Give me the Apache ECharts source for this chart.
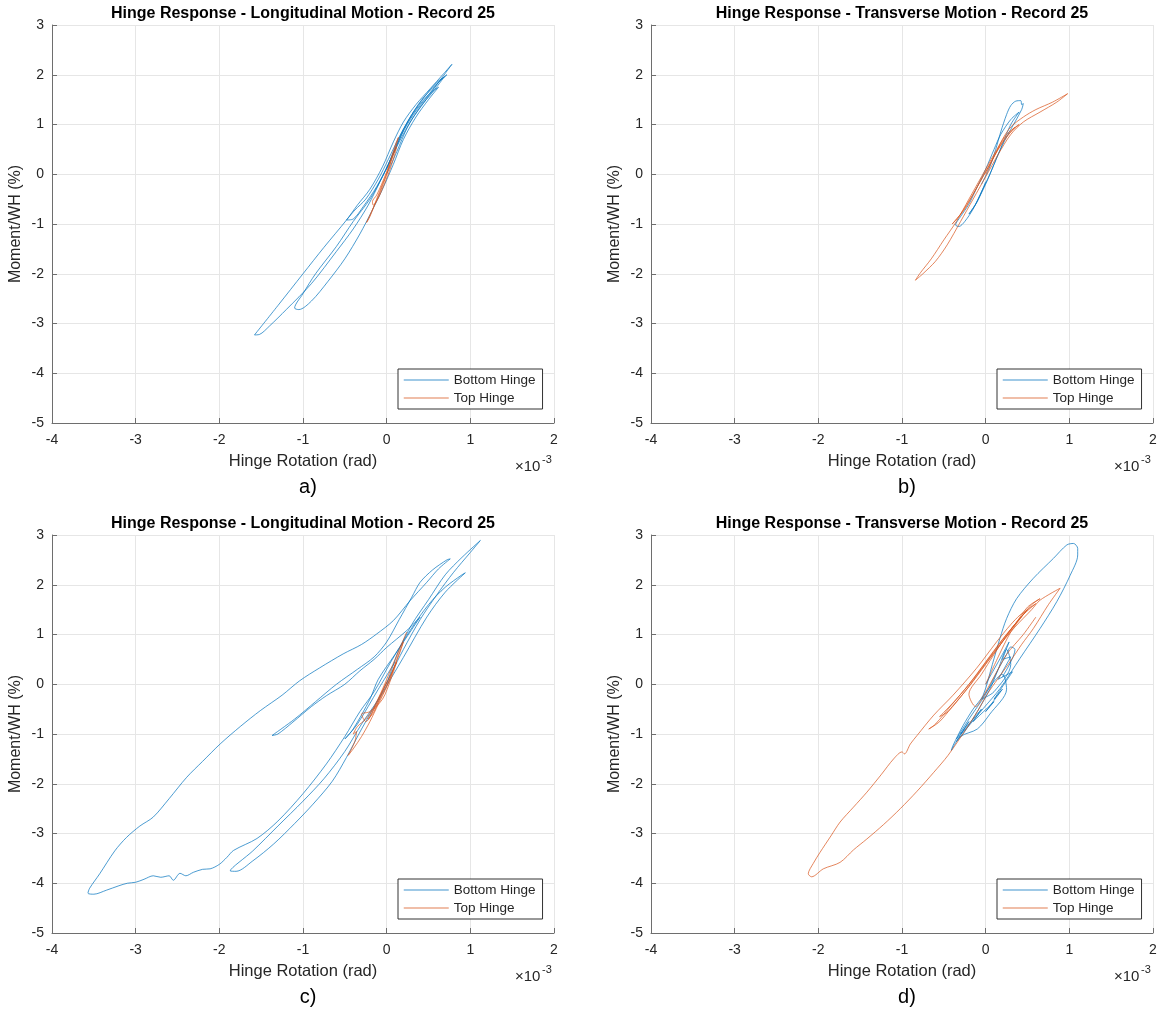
<!DOCTYPE html>
<html>
<head>
<meta charset="utf-8">
<script src="https://cdn.jsdelivr.net/npm/echarts@6/dist/echarts.min.js"></script>
<style>
  html, body { margin: 0; padding: 0; background: #fff; }
  #chart { width: 1162px; height: 1012px; }
</style>
</head>
<body>
<div id="chart"></div>
<script>
// tick values (x is in units of 1e-3 rad)
var xTicks = [-4, -3, -2, -1, 0, 1, 2];
var yTicks = [-5, -4, -3, -2, -1, 0, 1, 2, 3];
var seriesNames = ['Bottom Hinge', 'Top Hinge'];
var panelTitles = [
  'Hinge Response - Longitudinal Motion - Record 25',
  'Hinge Response - Transverse Motion - Record 25',
  'Hinge Response - Longitudinal Motion - Record 25',
  'Hinge Response - Transverse Motion - Record 25'
];
var panelLetters = ['a)', 'b)', 'c)', 'd)'];

// a) longitudinal, record 25
var aBottom = [[0,0],[0.12,0.45],[0.25,0.95],[0.4,1.35],[0.55,1.65],[0.69,1.96],[0.6,1.85],[0.45,1.55],[0.3,1.2],[0.15,0.75],[0.02,0.3],[-0.1,-0.1],[-0.25,-0.5],[-0.38,-0.72],[-0.48,-0.92],[-0.4,-0.9],[-0.28,-0.65],[-0.12,-0.25],[0.02,0.2],[0.15,0.65],[0.3,1.1],[0.45,1.45],[0.6,1.8],[0.78,2.21],[0.68,2.02],[0.52,1.72],[0.35,1.4],[0.2,1.05],[0.08,0.65],[-0.05,0.15],[-0.2,-0.3],[-0.35,-0.62],[-0.48,-0.92],[-0.75,-1.47],[-1.0,-2.0],[-1.3,-2.64],[-1.58,-3.23],[-1.52,-3.22],[-1.4,-3.05],[-1.2,-2.72],[-0.9,-2.2],[-0.6,-1.55],[-0.4,-1.1],[-0.22,-0.62],[-0.08,-0.15],[0.05,0.3],[0.18,0.8],[0.32,1.2],[0.48,1.55],[0.62,1.85],[0.72,2.0],[0.6,1.82],[0.42,1.5],[0.25,1.05],[0.1,0.5],[-0.05,-0.05],[-0.2,-0.5],[-0.4,-0.95],[-0.6,-1.45],[-0.85,-2.0],[-1.0,-2.4],[-1.1,-2.69],[-1.05,-2.72],[-0.9,-2.55],[-0.7,-2.15],[-0.5,-1.7],[-0.32,-1.2],[-0.18,-0.75],[-0.05,-0.3],[0.08,0.2],[0.2,0.7],[0.35,1.15],[0.5,1.5],[0.62,1.75],[0.5,1.6],[0.35,1.3],[0.2,0.9],[0.08,0.45],[0,0.1]];
var aTop = [[-0.24,-0.97],[-0.18,-0.75],[-0.1,-0.45],[-0.02,-0.1],[0.05,0.25],[0.1,0.5],[0.14,0.74],[0.11,0.62],[0.06,0.35],[0.0,0.05],[-0.06,-0.2],[-0.12,-0.42],[-0.17,-0.55],[-0.16,-0.62],[-0.1,-0.48],[-0.04,-0.25],[0.03,0.05],[0.08,0.3],[0.12,0.55],[0.08,0.4],[0.02,0.1],[-0.05,-0.2],[-0.12,-0.5],[-0.2,-0.85],[-0.24,-0.97]];

// b) transverse, record 25
var bBottom = [[-0.05,-0.2],[0.05,0.15],[0.12,0.5],[0.18,0.85],[0.25,1.2],[0.3,1.38],[0.36,1.47],[0.42,1.48],[0.43,1.4],[0.45,1.42],[0.43,1.3],[0.35,1.05],[0.25,0.75],[0.15,0.4],[0.05,0.0],[-0.05,-0.35],[-0.15,-0.7],[-0.25,-0.95],[-0.32,-1.05],[-0.36,-1.02],[-0.3,-0.85],[-0.2,-0.6],[-0.1,-0.25],[0.0,0.1],[0.1,0.5],[0.18,0.8],[0.3,1.1],[0.4,1.25],[0.3,1.0],[0.2,0.6],[0.1,0.2],[0.0,-0.2],[-0.12,-0.6],[-0.2,-0.8],[-0.1,-0.55],[0.0,-0.15]];
var bTop = [[0,0],[0.1,0.35],[0.2,0.7],[0.3,0.95],[0.45,1.15],[0.6,1.3],[0.8,1.45],[0.98,1.62],[0.85,1.45],[0.65,1.25],[0.45,1.05],[0.3,0.8],[0.15,0.4],[0.0,-0.05],[-0.15,-0.5],[-0.3,-0.95],[-0.46,-1.42],[-0.6,-1.75],[-0.75,-2.0],[-0.84,-2.13],[-0.78,-1.98],[-0.65,-1.7],[-0.5,-1.32],[-0.35,-0.95],[-0.2,-0.5],[-0.05,-0.05],[0.1,0.4],[0.25,0.8],[0.4,1.0],[0.3,0.85],[0.15,0.5],[0.0,0.05],[-0.15,-0.4],[-0.3,-0.8],[-0.4,-1.0],[-0.25,-0.7],[-0.1,-0.25],[0.05,0.2],[0.2,0.65],[0.35,0.95]];

// c) longitudinal, stronger shaking
var cBottom = [[0,0],[0.15,0.7],[0.3,1.2],[0.5,1.7],[0.7,2.2],[0.9,2.55],[1.12,2.89],[1.0,2.65],[0.8,2.25],[0.6,1.8],[0.4,1.3],[0.2,0.7],[0.05,0.2],[-0.1,-0.3],[-0.3,-0.8],[-0.5,-1.35],[-0.75,-1.9],[-1.0,-2.35],[-1.3,-2.85],[-1.6,-3.35],[-1.87,-3.75],[-1.8,-3.76],[-1.6,-3.55],[-1.35,-3.21],[-1.1,-2.8],[-0.88,-2.41],[-0.65,-1.95],[-0.48,-1.47],[-0.3,-0.9],[-0.08,-0.26],[0.2,0.54],[0.48,1.35],[0.7,1.85],[0.94,2.24],[0.9,2.2],[0.7,1.95],[0.5,1.6],[0.28,1.08],[0.05,0.45],[-0.15,-0.15],[-0.32,-0.55],[-0.5,-1.05],[-0.72,-1.6],[-1.0,-2.2],[-1.3,-2.75],[-1.55,-3.1],[-1.83,-3.34],[-1.91,-3.48],[-2.0,-3.62],[-2.11,-3.71],[-2.2,-3.72],[-2.31,-3.78],[-2.4,-3.85],[-2.47,-3.8],[-2.55,-3.94],[-2.6,-3.85],[-2.7,-3.88],[-2.79,-3.85],[-2.9,-3.92],[-3.0,-3.98],[-3.1,-4.0],[-3.2,-4.05],[-3.35,-4.14],[-3.5,-4.22],[-3.57,-4.2],[-3.55,-4.1],[-3.43,-3.81],[-3.25,-3.35],[-3.11,-3.08],[-2.95,-2.85],[-2.79,-2.67],[-2.6,-2.3],[-2.39,-1.87],[-2.2,-1.55],[-1.99,-1.2],[-1.75,-0.85],[-1.51,-0.53],[-1.25,-0.22],[-1.04,0.07],[-0.8,0.33],[-0.52,0.61],[-0.3,0.8],[-0.12,1.01],[0.08,1.28],[0.28,1.68],[0.48,2.05],[0.62,2.32],[0.76,2.52],[0.72,2.5],[0.55,2.3],[0.4,2.05],[0.3,1.75],[0.15,1.3],[0.0,0.85],[-0.15,0.55],[-0.35,0.3],[-0.6,0.0],[-0.85,-0.35],[-1.1,-0.7],[-1.37,-1.03],[-1.3,-1.0],[-1.12,-0.76],[-0.9,-0.45],[-0.72,-0.23],[-0.5,0.0],[-0.32,0.27],[-0.15,0.5],[0.0,0.74],[0.24,1.08],[0.4,1.35],[0.3,1.1],[0.1,0.6],[-0.1,0.1],[-0.2,-0.3],[-0.4,-0.9],[-0.5,-1.1],[-0.35,-0.8],[-0.1,-0.1],[0.1,0.45]];
var cTop = [[0.24,1.05],[0.15,0.7],[0.05,0.3],[-0.05,-0.1],[-0.15,-0.45],[-0.25,-0.7],[-0.35,-0.85],[-0.4,-1.0],[-0.36,-0.95],[-0.38,-1.15],[-0.46,-1.43],[-0.4,-1.3],[-0.3,-1.05],[-0.2,-0.75],[-0.1,-0.4],[0.0,-0.05],[0.08,0.3],[0.15,0.6],[0.2,0.85],[0.12,0.5],[0.05,0.15],[-0.05,-0.2],[-0.15,-0.5],[-0.22,-0.7],[-0.15,-0.55],[-0.05,-0.15],[0.05,0.2],[0.12,0.45],[0.05,0.1],[-0.05,-0.3],[-0.2,-0.55],[-0.3,-0.6],[-0.25,-0.75],[-0.1,-0.3],[0.0,0.05]];

// d) transverse, stronger shaking
var dBottom = [[0,0],[0.1,0.3],[0.2,0.6],[0.28,0.85],[0.2,0.5],[0.3,0.55],[0.15,0.1],[0.32,0.25],[0.1,-0.3],[0.2,-0.1],[0.0,-0.55],[0.1,-0.35],[-0.15,-0.75],[-0.05,-0.5],[-0.3,-1.0],[-0.2,-0.75],[-0.35,-1.15],[-0.25,-0.95],[-0.1,-0.55],[0.05,-0.1],[0.15,0.3],[0.25,0.7],[0.3,0.4],[0.1,-0.15],[-0.05,-0.3],[0.2,0.2],[0.25,-0.1],[0.05,-0.6],[-0.1,-0.9],[-0.3,-1.05],[-0.41,-1.33],[-0.39,-1.23],[-0.27,-0.83],[-0.15,-0.5],[-0.03,-0.22],[0.08,0.4],[0.17,0.92],[0.25,1.32],[0.37,1.72],[0.57,2.13],[0.81,2.53],[0.97,2.8],[1.05,2.83],[1.1,2.73],[1.1,2.6],[1.01,2.19],[0.85,1.66],[0.65,1.12],[0.41,0.52],[0.17,-0.09],[-0.03,-0.49],[-0.23,-0.89],[-0.35,-1.1],[-0.2,-0.7],[0.0,-0.2],[0.15,0.3],[0.25,0.6],[0.3,0.75],[0.35,0.7],[0.2,0.15]];
var dTop = [[0,0],[0.15,0.55],[0.3,1.05],[0.45,1.4],[0.55,1.6],[0.65,1.72],[0.5,1.55],[0.35,1.2],[0.2,0.85],[0.0,0.4],[-0.2,-0.05],[-0.4,-0.45],[-0.55,-0.75],[-0.68,-0.9],[-0.6,-0.8],[-0.4,-0.4],[-0.2,0.0],[0.0,0.45],[0.2,0.9],[0.4,1.3],[0.5,1.5],[0.6,1.62],[0.45,1.4],[0.25,1.0],[0.05,0.55],[-0.15,0.1],[-0.35,-0.3],[-0.55,-0.65],[-0.45,-0.55],[-0.25,-0.15],[-0.05,0.3],[0.15,0.75],[0.35,1.15],[0.55,1.5],[0.65,1.69],[0.89,1.93],[0.75,1.6],[0.57,1.12],[0.43,0.8],[0.29,0.45],[0.15,0.12],[0.01,-0.22],[-0.1,-0.55],[-0.23,-0.89],[-0.45,-1.43],[-0.62,-1.77],[-0.82,-2.15],[-1.02,-2.5],[-1.22,-2.82],[-1.42,-3.11],[-1.58,-3.33],[-1.74,-3.58],[-1.94,-3.71],[-2.08,-3.87],[-2.12,-3.81],[-2.06,-3.6],[-1.98,-3.38],[-1.85,-3.05],[-1.74,-2.77],[-1.58,-2.47],[-1.42,-2.17],[-1.25,-1.82],[-1.1,-1.5],[-1.0,-1.36],[-0.97,-1.4],[-0.9,-1.2],[-0.82,-1.03],[-0.62,-0.62],[-0.39,-0.22],[-0.11,0.32],[0.13,0.85],[0.3,1.2],[0.41,1.39],[0.5,1.5],[0.3,1.1],[0.1,0.6],[-0.05,0.2],[-0.2,-0.2],[-0.12,-0.45],[-0.05,-0.3],[0.1,0.15],[0.25,0.6],[0.45,1.0],[0.6,1.35]];

var bottomData = [aBottom, bBottom, cBottom, dBottom];
var topData = [aTop, bTop, cTop, dTop];

var FONT = '"Liberation Sans", Arial, Helvetica, sans-serif';
var TXT = '#262626';
var BLUE = '#0072BD';
var ORANGE = '#D95319';

// plot boxes (pixels)
var boxes = [
  { left: 52,  top: 25 },
  { left: 651, top: 25 },
  { left: 52,  top: 535 },
  { left: 651, top: 535 }
];
var W = 502, H = 398;

var grids = [], xAxes = [], yAxes = [], series = [], legends = [], graphics = [];

boxes.forEach(function (b, i) {
  grids.push({ left: b.left, top: b.top, width: W, height: H, containLabel: false });

  xAxes.push({
    type: 'value', gridIndex: i,
    min: xTicks[0], max: xTicks[xTicks.length - 1], interval: 1,
    name: 'Hinge Rotation (rad)', nameLocation: 'middle', nameGap: 30,
    nameTextStyle: { fontFamily: FONT, fontSize: 16.5, color: TXT },
    axisLine: { show: true, onZero: false, lineStyle: { color: '#6e6e6e', width: 1 } },
    axisTick: { show: true, inside: true, length: 5, lineStyle: { color: '#6e6e6e' } },
    axisLabel: { margin: 10, fontFamily: FONT, fontSize: 14, color: TXT },
    splitLine: { show: true, lineStyle: { color: '#e6e6e6', width: 1 } }
  });

  yAxes.push({
    type: 'value', gridIndex: i,
    min: yTicks[0], max: yTicks[yTicks.length - 1], interval: 1,
    name: 'Moment/WH (%)', nameLocation: 'middle', nameGap: 28, nameRotate: 90,
    nameTextStyle: { fontFamily: FONT, fontSize: 16, color: TXT },
    axisLine: { show: true, onZero: false, lineStyle: { color: '#6e6e6e', width: 1 } },
    axisTick: { show: true, inside: true, length: 5, lineStyle: { color: '#6e6e6e' } },
    axisLabel: { margin: 8, fontFamily: FONT, fontSize: 14, color: TXT },
    splitLine: { show: true, lineStyle: { color: '#e6e6e6', width: 1 } }
  });

  series.push({
    name: seriesNames[0], type: 'line', xAxisIndex: i, yAxisIndex: i,
    data: bottomData[i], symbol: 'none', showSymbol: false, smooth: 0.3,
    lineStyle: { color: BLUE, width: 1, opacity: 0.7 }, itemStyle: { color: BLUE },
    animation: false, z: 2
  });
  series.push({
    name: seriesNames[1], type: 'line', xAxisIndex: i, yAxisIndex: i,
    data: topData[i], symbol: 'none', showSymbol: false, smooth: 0.3,
    lineStyle: { color: ORANGE, width: 1, opacity: 0.7 }, itemStyle: { color: ORANGE },
    animation: false, z: 3
  });

  legends.push({
    data: seriesNames, orient: 'vertical',
    left: b.left + 346, top: b.top + 344,
    itemWidth: 45, itemHeight: 10, itemGap: 4,
    padding: [4, 7, 4, 5],
    borderColor: '#333', borderWidth: 1, borderRadius: 0,
    backgroundColor: '#fff', selectedMode: false,
    itemStyle: { opacity: 0 },
    lineStyle: { width: 1.5, opacity: 0.5 },
    textStyle: { fontFamily: FONT, fontSize: 13.5, color: TXT }
  });

  // title above plot
  graphics.push({
    type: 'text', x: b.left + W / 2, y: b.top - 11,
    style: { text: panelTitles[i], font: 'bold 16px ' + FONT, fill: '#000',
             textAlign: 'center', textVerticalAlign: 'middle' }
  });
  // x10^-3 exponent marker
  graphics.push({
    type: 'text', x: b.left + 463, y: b.top + 442,
    style: { text: '\u00d710', font: '15px ' + FONT, fill: TXT,
             textAlign: 'left', textVerticalAlign: 'middle' }
  });
  graphics.push({
    type: 'text', x: b.left + 490, y: b.top + 435,
    style: { text: '-3', font: '11px ' + FONT, fill: TXT,
             textAlign: 'left', textVerticalAlign: 'middle' }
  });
  // panel letter
  graphics.push({
    type: 'text', x: b.left + 256, y: b.top + 462,
    style: { text: panelLetters[i], font: '20px ' + FONT, fill: '#000',
             textAlign: 'center', textVerticalAlign: 'middle' }
  });
});

var myChart = echarts.init(document.getElementById('chart'), null, { renderer: 'canvas' });
var option = {
  backgroundColor: '#fff',
  animation: false,
  grid: grids,
  xAxis: xAxes,
  yAxis: yAxes,
  legend: legends,
  series: series,
  graphic: graphics
};
myChart.setOption(option);
</script>
</body>
</html>
